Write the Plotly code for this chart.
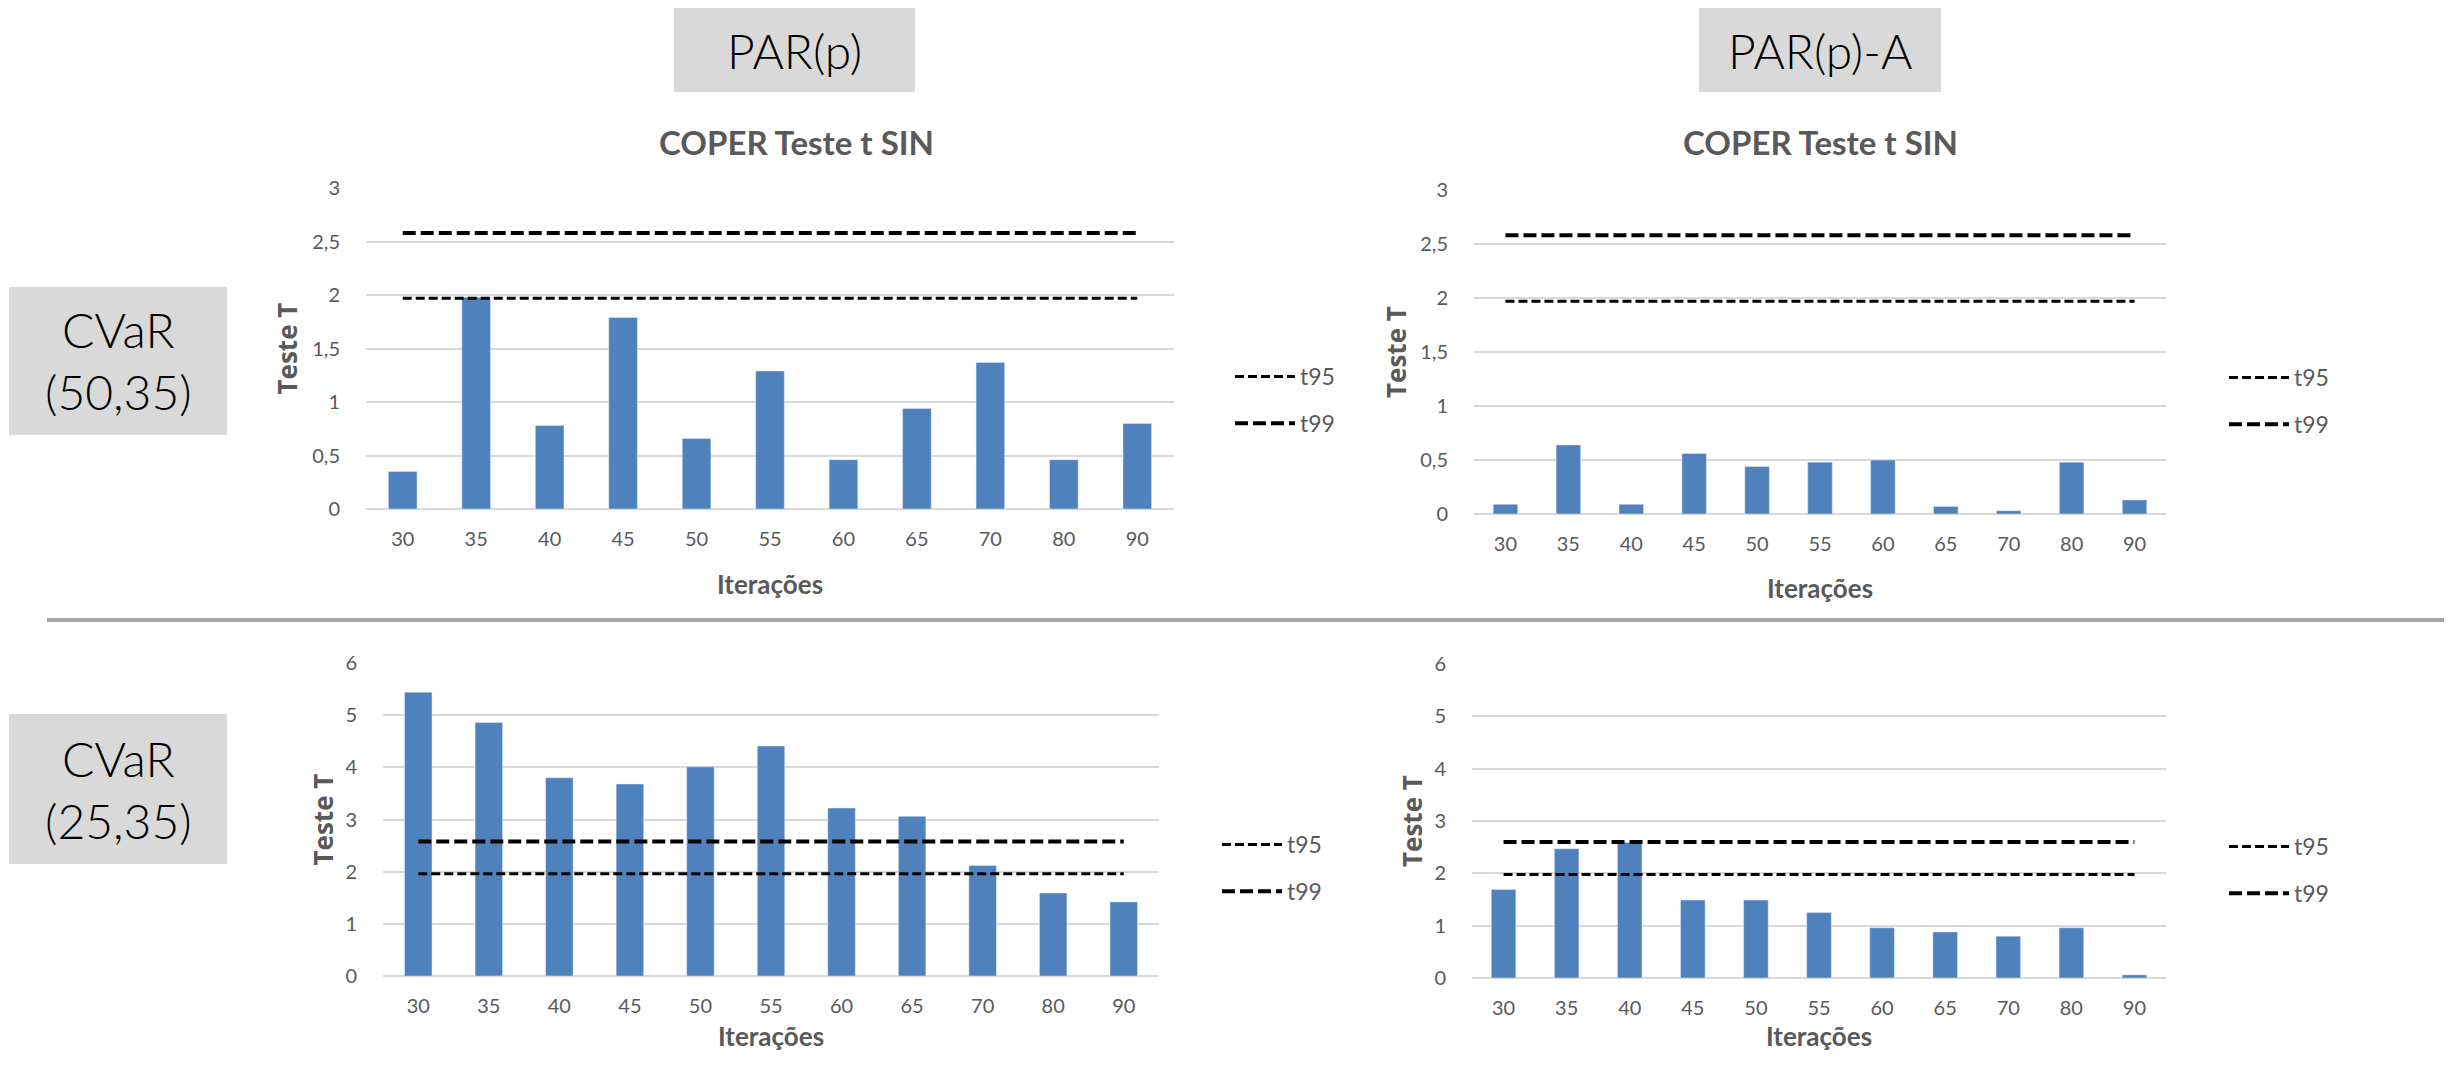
import plotly.graph_objects as go

# page body has an 8px margin: figure is sized to fit inside the window
OFF = 8
W, H = 2458 - 2 * OFF, 1066 - 2 * OFF

# ---------------- data ----------------
iteracoes = ["30", "35", "40", "45", "50", "55", "60", "65", "70", "80", "90"]

par_cvar50 = [0.35, 1.98, 0.78, 1.79, 0.66, 1.29, 0.46, 0.94, 1.37, 0.46, 0.80]
para_cvar50 = [0.09, 0.64, 0.09, 0.56, 0.44, 0.48, 0.50, 0.07, 0.03, 0.48, 0.13]
par_cvar25 = [5.44, 4.86, 3.80, 3.68, 4.01, 4.41, 3.22, 3.06, 2.12, 1.59, 1.42]
para_cvar25 = [1.69, 2.47, 2.59, 1.49, 1.49, 1.25, 0.96, 0.88, 0.80, 0.96, 0.06]

t95_cvar50 = 1.97
t99_cvar50 = 2.58
t95_cvar25_par = 1.96
t99_cvar25_par = 2.58
t95_cvar25_para = 1.98
t99_cvar25_para = 2.60

col_labels = ["PAR(p)", "PAR(p)-A"]
row_labels = ["CVaR<br>(50,35)", "CVaR<br>(25,35)"]
chart_title = "COPER Teste t SIN"
x_title = "Iterações"
y_title = "Teste T"

# ---------------- layout helpers (window pixels -> paper) ----------------
def px(x):
    return (x - OFF) / W

def py(y):
    return 1 - (y - OFF) / H

GRAY = "#595959"
BLUE = "#4F81BD"
GRID = "#D9D9D9"
FONT = "Lato"

panels = [
    dict(vals=par_cvar50, t95=t95_cvar50, t99=t99_cvar50, xd=(366, 1174), yd=(188, 509),
         yr=3, dtick=0.5, title=True, ytx=286, itx_y=584, leg=(1230, 355)),
    dict(vals=para_cvar50, t95=t95_cvar50, t99=t99_cvar50, xd=(1474, 2166), yd=(190, 514),
         yr=3, dtick=0.5, title=True, ytx=1396, itx_y=588, leg=(2224, 356)),
    dict(vals=par_cvar25, t95=t95_cvar25_par, t99=t99_cvar25_par, xd=(383, 1159), yd=(663, 976),
         yr=6, dtick=1, title=False, ytx=322, itx_y=1036, leg=(1217, 823)),
    dict(vals=para_cvar25, t95=t95_cvar25_para, t99=t99_cvar25_para, xd=(1472, 2166), yd=(664, 978),
         yr=6, dtick=1, title=False, ytx=1412, itx_y=1036, leg=(2224, 825)),
]

fig = go.Figure()
annotations = []
shapes = []

for i, p in enumerate(panels):
    n = "" if i == 0 else str(i + 1)
    xa, ya = "x" + n, "y" + n
    leg = "legend" + n
    fig.add_trace(go.Bar(x=iteracoes, y=p["vals"], marker_color=BLUE, width=0.39,
                         showlegend=False, xaxis=xa, yaxis=ya))
    fig.add_trace(go.Scatter(x=iteracoes, y=[p["t95"]] * len(iteracoes), mode="lines",
                             name="t95", line=dict(color="black", width=3, dash="9px,4px"),
                             xaxis=xa, yaxis=ya, legend=leg, legendgroup="a" + n))
    fig.add_trace(go.Scatter(x=iteracoes, y=[p["t99"]] * len(iteracoes), mode="lines",
                             name="t99", line=dict(color="black", width=4, dash="13px,5px"),
                             xaxis=xa, yaxis=ya, legend=leg, legendgroup="b" + n))
    fig.update_layout({
        "xaxis" + n: dict(domain=[px(p["xd"][0]), px(p["xd"][1])], anchor=ya, type="category",
                          range=[-0.5, len(iteracoes) - 0.5], showgrid=False, showline=False,
                          ticks="", ticklabelstandoff=16, automargin=False,
                          tickfont=dict(family=FONT, size=20, color=GRAY)),
        "yaxis" + n: dict(domain=[py(p["yd"][1]), py(p["yd"][0])], anchor=xa,
                          range=[0, p["yr"]], dtick=p["dtick"], showgrid=True, gridcolor=GRID,
                          gridwidth=2, zeroline=True, zerolinecolor=GRID, zerolinewidth=2,
                          showline=False, ticks="", ticklabelstandoff=25, automargin=False,
                          tickfont=dict(family=FONT, size=20, color=GRAY)),
        leg: dict(x=px(p["leg"][0]), y=py(p["leg"][1]), xanchor="left", yanchor="top",
                  bgcolor="rgba(0,0,0,0)", tracegroupgap=14, itemwidth=60,
                  font=dict(family=FONT, size=23, color=GRAY)),
    })
    xc = (p["xd"][0] + p["xd"][1]) / 2
    annotations.append(dict(text="<b>" + x_title + "</b>", x=px(xc), y=py(p["itx_y"]),
                            xref="paper", yref="paper", showarrow=False,
                            xanchor="center", yanchor="middle", borderpad=0,
                            font=dict(family=FONT, size=26, color=GRAY)))
    yc = (p["yd"][0] + p["yd"][1]) / 2
    annotations.append(dict(text="<b>" + y_title + "</b>", x=px(p["ytx"]), y=py(yc),
                            xref="paper", yref="paper", showarrow=False, textangle=-90,
                            xanchor="center", yanchor="middle",
                            font=dict(family="Open Sans", size=26, color=GRAY)))
    if p["title"]:
        tx = 796 if i == 0 else 1820
        annotations.append(dict(text="<b>" + chart_title + "</b>", x=px(tx), y=py(142),
                                xref="paper", yref="paper", showarrow=False,
                                xanchor="center", yanchor="middle",
                                font=dict(family=FONT, size=33, color=GRAY)))

# header boxes
boxes = [
    (col_labels[0], (674, 915), (8, 92)),
    (col_labels[1], (1699, 1941), (8, 92)),
    (row_labels[0], (9, 227), (287, 435)),
    (row_labels[1], (9, 227), (714, 864)),
]
for txt, (x0, x1), (y0, y1) in boxes:
    shapes.append(dict(type="rect", xref="paper", yref="paper", x0=px(x0), x1=px(x1),
                       y0=py(y1), y1=py(y0), fillcolor="#D9D9D9", line=dict(width=0),
                       layer="below"))
    annotations.append(dict(text=txt, x=px((x0 + x1) / 2), y=py((y0 + y1) / 2),
                            xref="paper", yref="paper", showarrow=False,
                            xanchor="center", yanchor="middle",
                            font=dict(family=FONT, size=48, color="black", weight=300)))

# separator line
shapes.append(dict(type="line", xref="paper", yref="paper", x0=px(47), x1=px(2444),
                   y0=py(620), y1=py(620), line=dict(color="#A6A6A6", width=4)))

fig.update_layout(width=W, height=H,
                  margin=dict(l=0, r=0, t=0, b=0, pad=0, autoexpand=False),
                  paper_bgcolor="white", plot_bgcolor="white", separators=", ",
                  barmode="overlay", annotations=annotations, shapes=shapes)

fig.write_html("out.html")
